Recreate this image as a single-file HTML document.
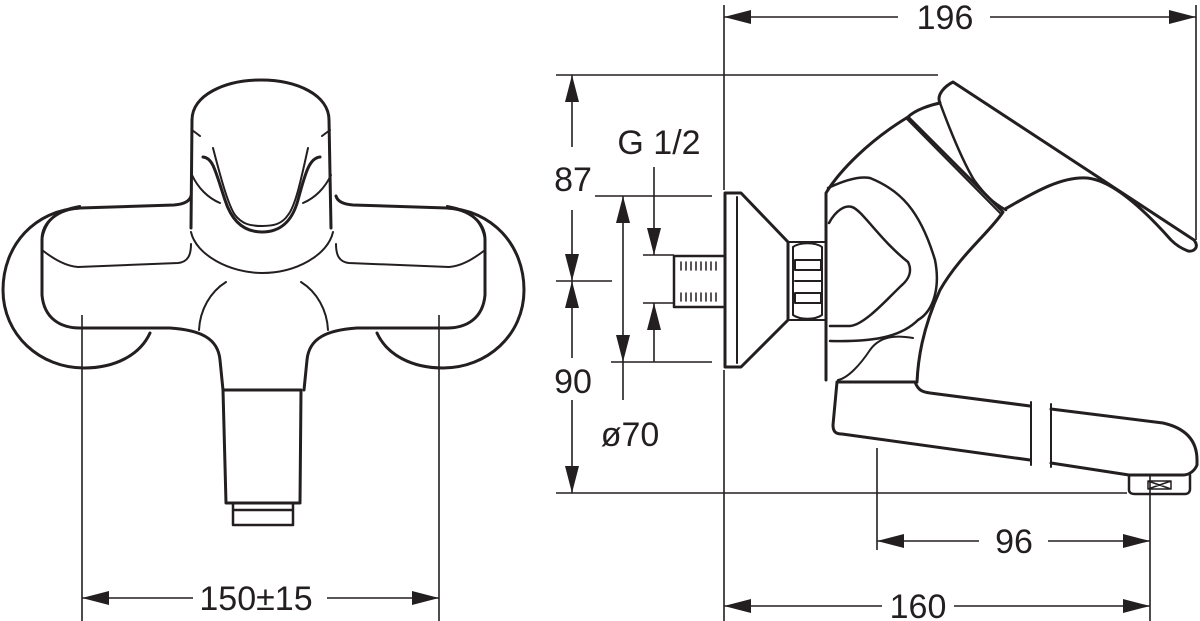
<!DOCTYPE html>
<html><head><meta charset="utf-8"><style>
html,body{margin:0;padding:0;background:#fff;}
svg{display:block}
text{font-family:"Liberation Sans",sans-serif;font-size:34px;fill:#231f20}
</style></head><body>
<svg width="1200" height="621" viewBox="0 0 1200 621" xmlns="http://www.w3.org/2000/svg">
<g fill="none" stroke="#231f20" stroke-width="3" stroke-linejoin="round" stroke-linecap="round">
<!-- LEFT VIEW -->
<path d="M192,120 C192,95 225,80 261,80 C297,80 329,95 329,120 L331,228"/>
<path d="M192,120 L191,228"/>
<path d="M191,232 C196,255 230,273 262,273 C296,273 328,255 333,232" stroke-width="2"/>
<path d="M203,157 C213,158 215,170 225,200 C232,222 245,232 262,232 C280,232 292,222 298,200 C306,170 310,158 320,157"/>
<path d="M213,148 C220,175 228,205 235,215 C242,224 250,226 262,226 C274,226 282,224 288,215 C296,205 302,175 308,148" stroke-width="2"/>
<path d="M192,175 C198,188 208,198 220,203 M331,175 C325,188 315,198 303,203" stroke-width="2"/>
<path d="M192,130 L200,136 M330,130 L322,136" stroke-width="2"/>
<path d="M42,240 C42,222 58,209 80,208 L174,205 C186,204 190,200 191,196"/>
<path d="M485,240 C485,222 469,209 447,208 L353,205 C341,204 337,200 336,196"/>
<path d="M42,250 C55,260 66,266 78,267 L178,263 C188,262 191,255 191,244" stroke-width="2"/>
<path d="M485,250 C472,260 461,266 449,267 L349,263 C339,262 336,255 336,244" stroke-width="2"/>
<path d="M42,240 L42,295 C44,318 60,328 80,328 L170,328 C200,330 218,338 220,360 L223,390"/>
<path d="M485,240 L485,295 C483,318 467,328 447,328 L357,328 C327,330 309,338 307,360 L304,390"/>
<path d="M80,208 C35,210 3,245 3,290 C3,335 40,368 84,368 C115,368 140,355 150,333"/>
<path d="M447,208 C492,210 524,245 524,290 C524,335 487,368 443,368 C412,368 387,355 377,333"/>
<path d="M80,206 C55,210 45,222 42,240 M447,206 C472,210 482,222 485,240" stroke-width="2"/>
<path d="M226,282 C210,292 200,310 199,330 M301,282 C317,292 327,310 328,330" stroke-width="2"/>
<path d="M223,390 L301,390 M223,390 L226,503 L300,503 L301,390"/>
<path d="M233,503 L233,525 L293,525 L293,503 M233,510 L293,510" stroke-width="2.5"/>

<!-- RIGHT VIEW -->
<path d="M674,256 L723,256 M674,256 L674,307 L723,307" stroke-width="2.5"/>
<path d="M681,262v8M686,262v8M691,262v8M696,262v8M701,262v8M706,262v8M711,262v8M716,262v8M681,293v8M686,293v8M691,293v8M696,293v8M701,293v8M706,293v8M711,293v8M716,293v8" stroke-width="1.5"/>
<path d="M725,193 L741,193 L788,242 L788,320 L741,367 L725,367 Z"/>
<path d="M737,197 L737,363" stroke-width="2"/>
<path d="M788,242 L826,242 L826,320 L788,320 Z M793,247 C800,242 815,242 822,247 L822,315 C815,320 800,320 793,315 Z" stroke-width="2"/>
<path d="M795,260 L821,260 L821,270 L795,270 Z M795,293 L821,293 L821,303 L795,303 Z M795,281 L821,281" stroke-width="2"/>
<path d="M826,380 L826,193 C840,170 870,140 908,117 L1003,212 C990,232 960,255 940,290 C922,330 918,360 917,382"/>
<path d="M908,117 C915,110 930,105 940,103"/>
<path d="M940,103 C936,95 945,86 953,82 L1194,240 C1200,248 1193,252 1188,251 C1180,248 1175,244 1171,240 C1140,205 1110,180 1087,178 C1060,176 1030,195 1005,209"/>
<path d="M940,103 C950,130 962,160 974,180 C985,195 992,202 1006,210" stroke-width="2.5"/>
<path d="M907,119 L1001,214" stroke-width="2"/>
<path d="M828,188 C845,180 860,176 870,178 C900,190 920,210 935,260 C940,285 935,310 918,320 C900,338 870,342 830,341" stroke-width="2.5"/>
<path d="M829,223 C836,210 845,205 852,207 C862,210 880,240 908,262 C912,270 910,278 902,285 C890,296 865,325 850,326 L830,326" stroke-width="2.5"/>
<path d="M838,380 C848,378 860,365 870,350 C880,336 895,335 913,338" stroke-width="2"/>
<path d="M837,382 L915,382 C918,390 922,392 930,393 L1030,406"/>
<path d="M837,382 L833,425 C833,432 836,434 842,434 L1030,460"/>
<path d="M1051,409 L1163,423 C1185,428 1197,440 1197,460 L1197,465 C1195,470 1190,475 1183,475 L1129,475"/>
<path d="M1051,463 L1129,475"/>
<path d="M1031,402 L1031,465 M1051,404 L1051,467" stroke-width="2"/>
<path d="M1129,475 L1129,490 C1129,493 1132,494 1135,494 L1185,494 C1188,494 1190,492 1190,489 L1190,475" stroke-width="2.5"/>
<path d="M1148,481 L1171,481 L1171,489 L1148,489 Z M1148,481 L1171,489 M1171,481 L1148,489" stroke-width="1.5"/>
</g>

<g stroke="#231f20" stroke-width="1.6" fill="none">
<path d="M82,315 L82,621 M439,315 L439,621"/>
<path d="M82,598 L193,598 M327,598 L439,598"/>
<path d="M724,5 L724,190 M724,370 L724,621 M1196,5 L1196,240"/>
<path d="M724,17 L898,17 M990,17 L1196,17"/>
<path d="M556,75 L938,75"/>
<path d="M572,75 L572,147 M572,210 L572,358 M572,400 L572,493"/>
<path d="M556,281 L612,281"/>
<path d="M556,493 L1127,493"/>
<path d="M595,196 L712,196 M611,362 L712,362 M623,196 L623,400"/>
<path d="M654,167 L654,255 M643,255 L674,255 M643,303 L674,303 M654,303 L654,362"/>
<path d="M877,448 L877,550 M1150,475 L1150,621"/>
<path d="M877,541 L979,541 M1048,541 L1150,541"/>
<path d="M724,606 L882,606 M954,606 L1150,606"/>
</g>
<g fill="#231f20">
<path d="M82,598 l27,-7 v14 z M439,598 l-27,-7 v14 z"/>
<path d="M724,17 l27,-7 v14 z M1196,17 l-27,-7 v14 z"/>
<path d="M572,75 l-7,27 h14 z M572,281 l-7,-27 h14 z M572,281 l-7,27 h14 z M572,493 l-7,-27 h14 z"/>
<path d="M623,196 l-7,27 h14 z M623,362 l-7,-27 h14 z"/>
<path d="M654,255 l-7,-27 h14 z M654,303 l-7,27 h14 z"/>
<path d="M877,541 l27,-7 v14 z M1150,541 l-27,-7 v14 z"/>
<path d="M724,606 l27,-7 v14 z M1150,606 l-27,-7 v14 z"/>
</g>
<g text-anchor="middle">
<text x="256" y="610">150±15</text>
<text x="945" y="29">196</text>
<text x="573" y="191">87</text>
<text x="573" y="393">90</text>
<text x="659" y="154">G 1/2</text>
<text x="630" y="446">ø70</text>
<text x="1014" y="553">96</text>
<text x="918" y="618">160</text>
</g>
</svg>
</body></html>
